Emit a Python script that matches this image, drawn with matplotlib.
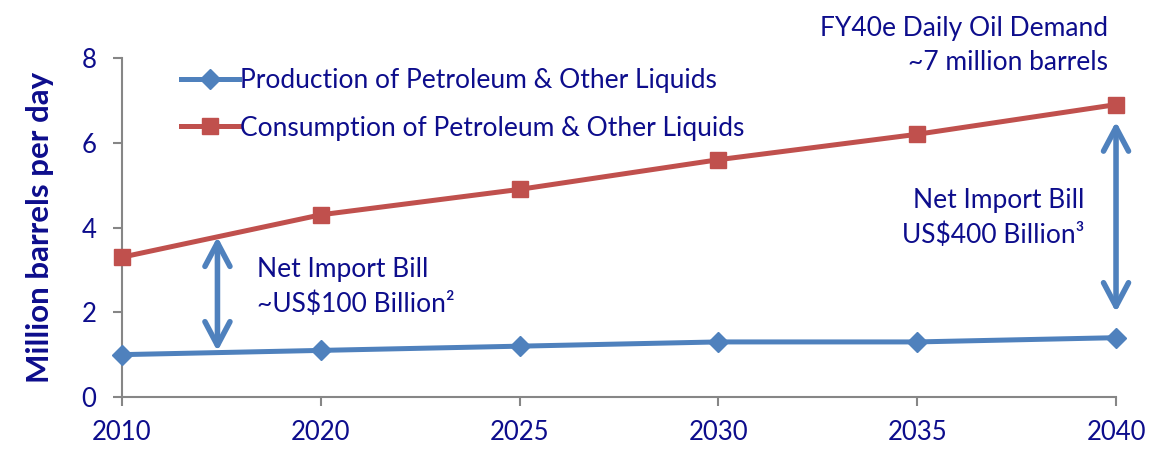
import matplotlib.pyplot as plt

# Oil production vs consumption outlook (million barrels per day)
years = ['2010', '2020', '2025', '2030', '2035', '2040']
production = [1.0, 1.1, 1.2, 1.3, 1.3, 1.4]
consumption = [3.3, 4.3, 4.9, 5.6, 6.2, 6.9]

BLUE = '#4f81bd'
RED = '#c0504d'
TEXT = '#0d0d8c'
AXIS = '#868686'

plt.rcParams['font.family'] = ['Lato', 'DejaVu Sans']

fig = plt.figure(figsize=(11.49, 4.51), dpi=100)
ax = fig.add_axes([0.1062, 0.1197, 0.8651, 0.7517])

xs = list(range(len(years)))
ax.plot(xs, production, color=BLUE, lw=3.6, marker='D', ms=10,
        clip_on=False, zorder=3,
        label='Production of Petroleum & Other Liquids')
ax.plot(xs, consumption, color=RED, lw=3.6, marker='s', ms=12,
        clip_on=False, zorder=3,
        label='Consumption of Petroleum & Other Liquids')

ax.set_xlim(0, len(years) - 1)
ax.set_ylim(0, 8)
ax.set_xticks(xs)
ax.set_xticklabels(years)
ax.set_yticks([0, 2, 4, 6, 8])

for side in ('top', 'right'):
    ax.spines[side].set_visible(False)
for side in ('left', 'bottom'):
    ax.spines[side].set_color(AXIS)
    ax.spines[side].set_linewidth(1.5)
ax.tick_params(axis='both', colors=AXIS, width=1.5, length=6.5,
               labelcolor=TEXT, labelsize=18.5)
ax.tick_params(axis='y', pad=12)
ax.tick_params(axis='x', pad=10)

ax.set_ylabel('Million barrels per day', color=TEXT, fontsize=22.5,
              fontweight='bold', labelpad=20)

ax.legend(loc='upper left', bbox_to_anchor=(0.035, 1.04), frameon=False,
          fontsize=19, labelcolor=TEXT, handlelength=2.2,
          handletextpad=0.05, labelspacing=0.85)

# gap arrows between the two series
arrow = dict(arrowstyle='<->,head_length=0.85,head_width=0.45',
             color=BLUE, lw=4, shrinkA=0, shrinkB=0, mutation_scale=20)
ax.annotate('', xy=(0.48, 3.78), xytext=(0.48, 1.08), arrowprops=arrow)
ax.annotate('', xy=(5.0, 6.5), xytext=(5.0, 2.0), arrowprops=arrow)

ax.text(0.68, 2.6, 'Net Import Bill\n~US$100 Billion²', color=TEXT,
        fontsize=19, va='center', ha='left', linespacing=1.45)
ax.text(4.84, 4.22, 'Net Import Bill\nUS$400 Billion³', color=TEXT,
        fontsize=19, va='center', ha='right', linespacing=1.45)

fig.text(0.964, 0.899, 'FY40e Daily Oil Demand\n~7 million barrels',
         color=TEXT, fontsize=19, ha='right', va='center',
         linespacing=1.45)

fig.savefig('out.png', dpi=100)
